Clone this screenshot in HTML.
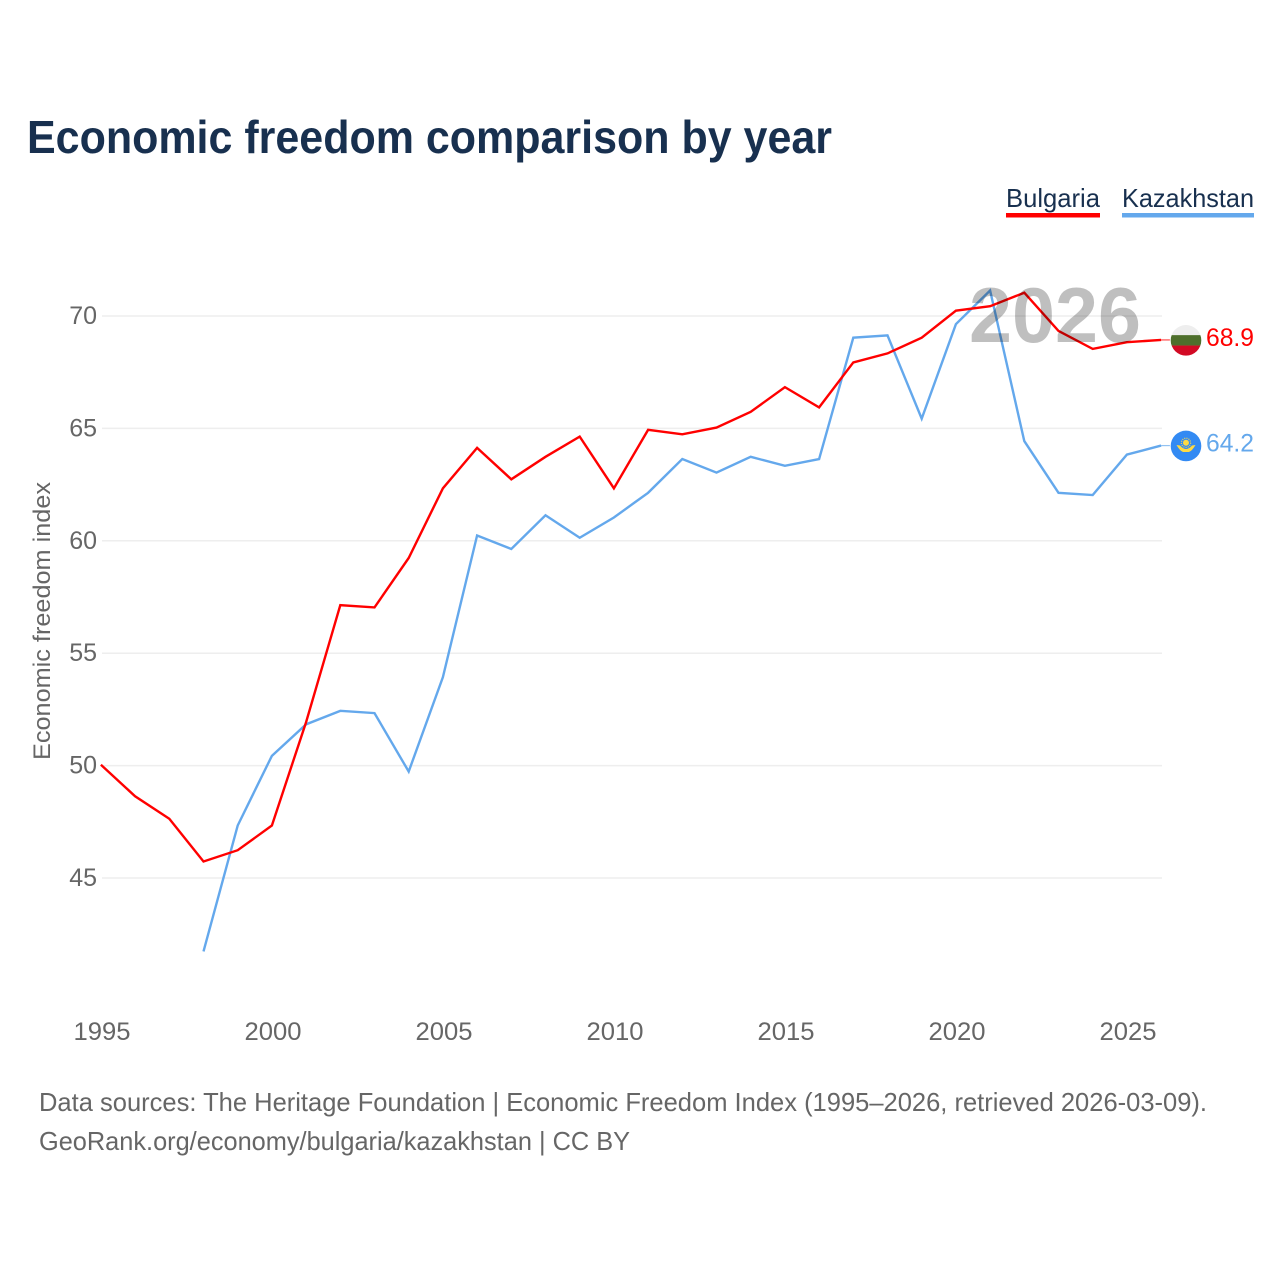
<!DOCTYPE html>
<html lang="en">
<head>
<meta charset="utf-8">
<title>Economic freedom comparison by year</title>
<style>
html,body{margin:0;padding:0;background:#fff;}
svg{display:block;font-family:"Liberation Sans",Arial,sans-serif;}
</style>
</head>
<body>
<svg id="chart" xmlns="http://www.w3.org/2000/svg" width="1280" height="1280" viewBox="0 0 1280 1280">
  <rect width="1280" height="1280" fill="#ffffff"/>
  <text x="27" y="153" font-size="46" font-weight="700" fill="#18304f" textLength="805" lengthAdjust="spacingAndGlyphs">Economic freedom comparison by year</text>

  <g>
    <text x="1006" y="207" font-size="26" fill="#18304f" textLength="94" lengthAdjust="spacingAndGlyphs">Bulgaria</text>
    <rect x="1006" y="213" width="94" height="4.5" fill="#ff0000"/>
  </g>
  <g>
    <text x="1122" y="207" font-size="26" fill="#18304f" textLength="132" lengthAdjust="spacingAndGlyphs">Kazakhstan</text>
    <rect x="1122" y="213" width="132" height="4.5" fill="#64a8ec"/>
  </g>

  <text transform="translate(50,621) rotate(-90)" text-anchor="middle" font-size="24.5" fill="#666666" textLength="278" lengthAdjust="spacingAndGlyphs">Economic freedom index</text>

  <g id="grid"></g>
  <g id="y-ticks"></g>
  <g id="x-ticks"></g>
  <g id="series" transform="translate(-1.1,-0.8)"></g>

  <text x="1141" y="342" text-anchor="end" font-size="78" font-weight="700" fill="#000000" fill-opacity="0.25" textLength="172" lengthAdjust="spacingAndGlyphs">2026</text>

  <g id="flag-bulgaria">
    <clipPath id="bg-clip"><circle cx="0" cy="0" r="15.3"/></clipPath>
    <g clip-path="url(#bg-clip)">
      <rect x="-16" y="-16" width="32" height="10.8" fill="#eeeeee"/>
      <rect x="-16" y="-5.2" width="32" height="10.4" fill="#4e6f2c"/>
      <rect x="-16" y="5.2" width="32" height="11" fill="#d20a24"/>
    </g>
  </g>
  <g id="flag-kazakhstan">
    <circle cx="0" cy="0" r="15.3" fill="#338af3"/>
    <circle cx="0" cy="-3.2" r="3" fill="#ffda44"/>
    <circle cx="0" cy="-3.2" r="4.6" fill="none" stroke="#ffda44" stroke-width="1.2" stroke-dasharray="1 1.2"/>
    <path d="M-9.5,-1 L-6,-0.5 Q-3,3 0,3 Q3,3 6,-0.5 L9.5,-1 Q6,5 3,6 L-3,6 Q-6,5 -9.5,-1 Z" fill="#ffda44"/>
  </g>
  <g id="end-labels"></g>

  <text x="39" y="1111" font-size="26" fill="#666666" textLength="1168" lengthAdjust="spacingAndGlyphs">Data sources: The Heritage Foundation | Economic Freedom Index (1995–2026, retrieved 2026-03-09).</text>
  <text x="39" y="1150" font-size="26" fill="#666666" textLength="591" lengthAdjust="spacingAndGlyphs">GeoRank.org/economy/bulgaria/kazakhstan | CC BY</text>
</svg>
<script>
const years = [1995,1996,1997,1998,1999,2000,2001,2002,2003,2004,2005,2006,2007,2008,2009,2010,2011,2012,2013,2014,2015,2016,2017,2018,2019,2020,2021,2022,2023,2024,2025,2026];
const bulgaria = [50.0,48.6,47.6,45.7,46.2,47.3,51.9,57.1,57.0,59.2,62.3,64.1,62.7,63.7,64.6,62.3,64.9,64.7,65.0,65.7,66.8,65.9,67.9,68.3,69.0,70.2,70.4,71.0,69.3,68.5,68.8,68.9];
const kazakhstan = [null,null,null,41.7,47.3,50.4,51.8,52.4,52.3,49.7,53.9,60.2,59.6,61.1,60.1,61.0,62.1,63.6,63.0,63.7,63.3,63.6,69.0,69.1,65.4,69.6,71.1,64.4,62.1,62.0,63.8,64.2];
const yTickValues = [45,50,55,60,65,70];
const xTickValues = [1995,2000,2005,2010,2015,2020,2025];

const NS = 'http://www.w3.org/2000/svg';
function xScale(year){ return 102 + (year - 1995) * 34.2; }
function yScale(v){ return 878 - (v - 45) * 22.48; }
function make(tag, attrs, parent){
  const el = document.createElementNS(NS, tag);
  for (const k in attrs) el.setAttribute(k, attrs[k]);
  parent.appendChild(el);
  return el;
}

const grid = document.getElementById('grid');
const yTicks = document.getElementById('y-ticks');
yTickValues.forEach(function(v){
  const line = make('line', {x1:102, x2:1162, y1:yScale(v), y2:yScale(v), stroke:'#eeeeee', 'stroke-width':1.5}, grid);
  
  
  const t = make('text', {x:97, y:yScale(v)+8, 'text-anchor':'end', 'font-size':25, fill:'#666666'}, yTicks);
  t.textContent = String(v);
  
  
});

const xTicks = document.getElementById('x-ticks');
xTickValues.forEach(function(y){
  const t = make('text', {x:xScale(y), y:1040, 'text-anchor':'middle', 'font-size':25, fill:'#666666', textLength:57, lengthAdjust:'spacingAndGlyphs'}, xTicks);
  t.textContent = String(y);
  
  
});

function drawSeries(name, values, color){
  const parent = document.getElementById('series');
  const pts = [];
  values.forEach(function(v, i){
    if (v !== null) pts.push(xScale(years[i]).toFixed(2) + ',' + yScale(v).toFixed(2));
  });
  const line = make('polyline', {points:pts.join(' '), fill:'none', stroke:color, 'stroke-width':2.4, 'stroke-linejoin':'miter'}, parent);
  
  
  const last = values[values.length - 1];
  const ly = yScale(last);
  const lead = make('line', {x1:xScale(years[years.length-1]), x2:1171, y1:ly, y2:ly, stroke:color, 'stroke-width':1.2, 'stroke-opacity':0.7}, parent);
  
  
  document.getElementById('flag-' + name).setAttribute('transform', 'translate(1186,' + (ly - 0.4).toFixed(2) + ')');
  const t = make('text', {x:1254, y:ly+5.2, 'text-anchor':'end', 'font-size':25, fill:color, textLength:48, lengthAdjust:'spacingAndGlyphs'}, document.getElementById('end-labels'));
  t.textContent = last.toFixed(1);
  
  
}
drawSeries('kazakhstan', kazakhstan, '#64a8ec');
drawSeries('bulgaria', bulgaria, '#ff0000');
</script>
</body>
</html>
